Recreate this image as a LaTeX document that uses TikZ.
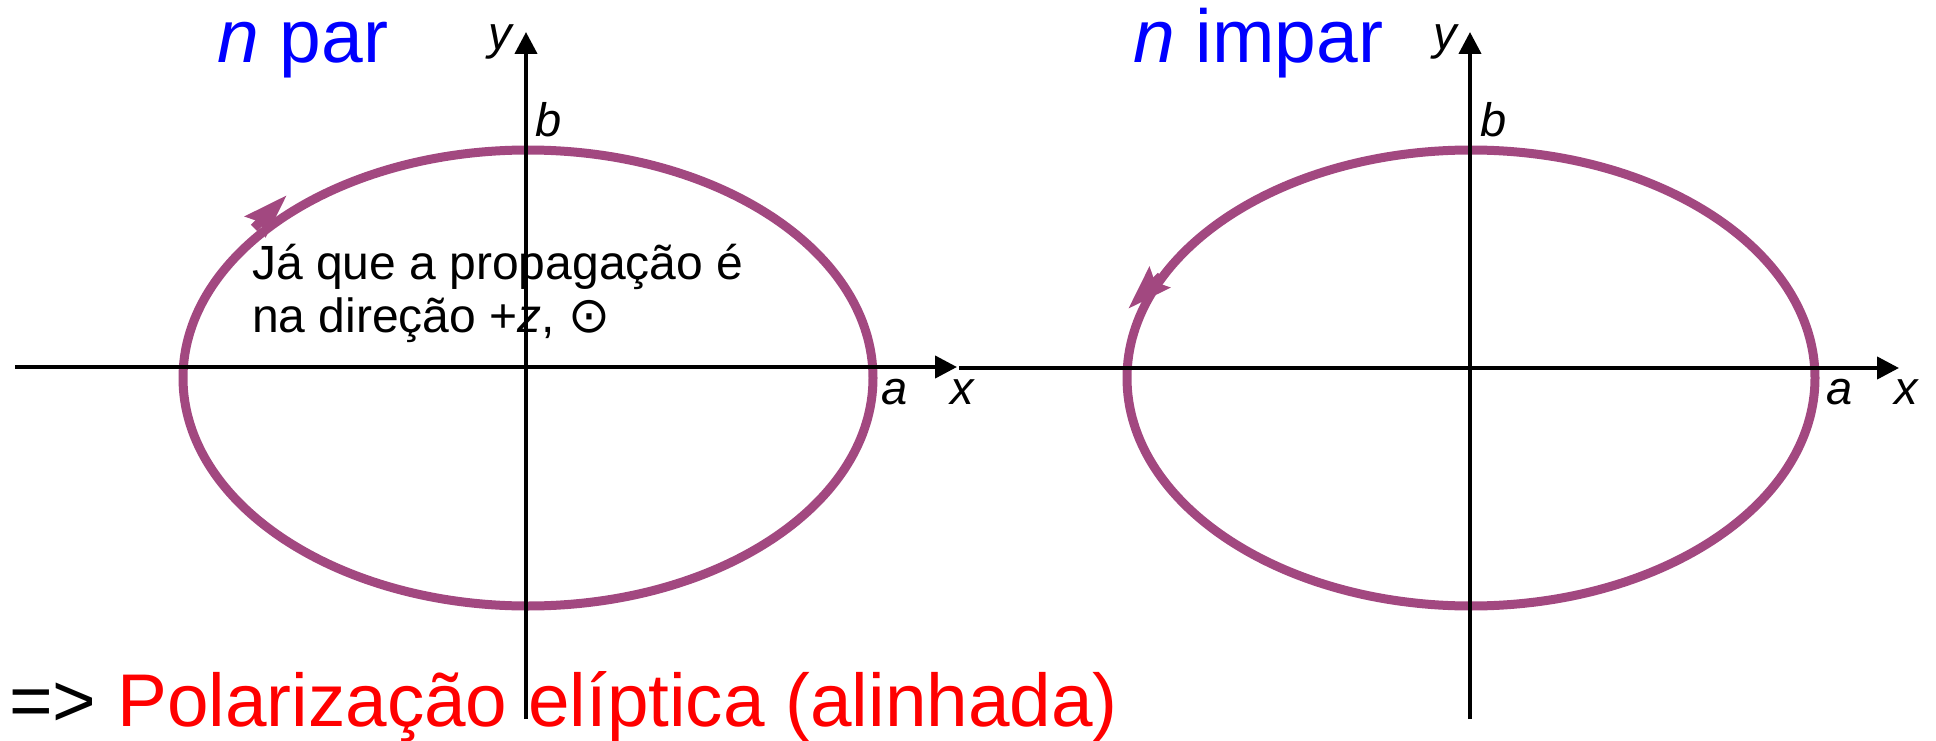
\documentclass[tikz,border=0pt]{standalone}
\usepackage{fontspec}
\setmainfont{Liberation Sans}
\setsansfont{Liberation Sans}
\newfontfamily\symfont{DejaVu Sans}
\usetikzlibrary{arrows.meta}
\definecolor{orbitcol}{RGB}{162,72,128}

\begin{document}
\begin{tikzpicture}[
  x=1pt, y=-1pt,
  font=\sffamily,
  axis/.style={line width=4.2pt, -{Triangle[length=22pt, width=22pt]}},
  orbit/.style={draw=orbitcol, line width=9pt},
  spin/.style={orbitcol, line width=9pt,
               -{Stealth[length=44pt, width=28pt, inset=6pt]}},
  title/.style={text=blue, anchor=base west, inner sep=0pt,
                font=\fontsize{75}{90}\selectfont},
  lbl/.style={anchor=base west, inner sep=0pt,
              font=\fontsize{47}{56}\selectfont\itshape},
  note/.style={anchor=base west, inner sep=0pt,
               font=\fontsize{48}{53}\selectfont},
]
  \useasboundingbox (0,0) rectangle (1936,741);

  % n par
  \coordinate (o1) at (528,378);
  \draw[orbit] (o1) ellipse [x radius=345, y radius=228];
  \coordinate (s1a) at (254,228);
  \coordinate (s1b) at (287,195);
  \draw[spin] (s1a) -- (s1b);
  \node[title] (t1) at (217,63) {\textit{n} par};
  \node[note] (note1) at (252,279) {Já que a propagação é};
  \node[note] (note2) at (252,332)
    {na direção +\textit{z}, {\symfont\fontsize{50}{53}\selectfont ⊙}};

  \coordinate (x1a) at (15,367);
  \coordinate (x1b) at (957,367);
  \coordinate (y1a) at (526,719);
  \coordinate (y1b) at (526,32);
  \draw[axis] (x1a) -- (x1b);
  \draw[axis] (y1a) -- (y1b);
  \node[lbl] (ly1) at (488,50)  {y};
  \node[lbl] (lb1) at (535,137) {b};
  \node[lbl] (la1) at (881,404) {a};
  \node[lbl] (lx1) at (950,404) {x};

  % n impar
  \coordinate (o2) at (1471,378);
  \draw[orbit] (o2) ellipse [x radius=344, y radius=228];
  \coordinate (s2a) at (1161,276);
  \coordinate (s2b) at (1128,309);
  \draw[spin] (s2a) -- (s2b);
  \node[title] (t2) at (1133,63) {\textit{n} impar};

  \coordinate (x2a) at (959,368);
  \coordinate (x2b) at (1899,368);
  \coordinate (y2a) at (1470,719);
  \coordinate (y2b) at (1470,32);
  \draw[axis] (x2a) -- (x2b);
  \draw[axis] (y2a) -- (y2b);
  \node[lbl] (ly2) at (1433,50)  {y};
  \node[lbl] (lb2) at (1480,137) {b};
  \node[lbl] (la2) at (1826,404) {a};
  \node[lbl] (lx2) at (1894,404) {x};

  \node[anchor=base west, inner sep=0pt, font=\fontsize{74.7}{88}\selectfont]
    (res) at (9,726) {=> \textcolor{red}{Polarização elíptica (alinhada)}};
\end{tikzpicture}
\end{document}
